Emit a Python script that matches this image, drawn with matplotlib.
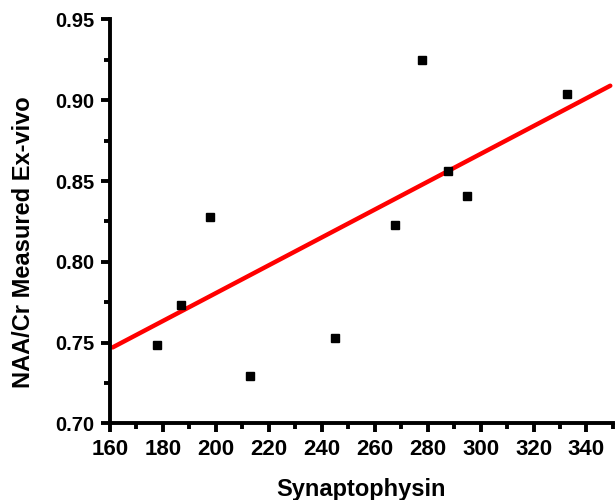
import matplotlib.pyplot as plt
from matplotlib.ticker import MultipleLocator

plt.rcParams["font.family"] = ["Liberation Sans", "DejaVu Sans"]

# measured points
synaptophysin = [177.8, 186.9, 197.9, 213.0, 245.1, 267.8, 277.9, 287.7, 294.9, 332.8]
naa_cr = [0.7485, 0.773, 0.828, 0.729, 0.753, 0.823, 0.925, 0.856, 0.841, 0.904]

# linear fit line (end points)
fit_x = [161, 349]
fit_y = [0.747, 0.909]

fig = plt.figure(figsize=(6.16, 5), dpi=100)
ax = fig.add_axes([0.1786, 0.1534, 0.8164, 0.8076])

ax.plot(fit_x, fit_y, color="red", lw=3.2, solid_capstyle="round", zorder=2)
ax.plot(synaptophysin, naa_cr, "s", color="black", ms=6, zorder=3)

ax.set_xlim(160, 350)
ax.set_ylim(0.70, 0.95)
ax.xaxis.set_major_locator(MultipleLocator(20))
ax.xaxis.set_minor_locator(MultipleLocator(10))
ax.yaxis.set_major_locator(MultipleLocator(0.05))
ax.yaxis.set_minor_locator(MultipleLocator(0.025))
ax.yaxis.set_major_formatter(plt.FormatStrFormatter("%.2f"))

for s in ["top", "right"]:
    ax.spines[s].set_visible(False)
for s in ["left", "bottom"]:
    ax.spines[s].set_linewidth(2.8)

ax.tick_params(which="major", length=6.5, width=2.8)
ax.tick_params(which="minor", length=4, width=2.8)
ax.tick_params(axis="x", labelsize=16, pad=5)
ax.tick_params(axis="y", labelsize=14.5, pad=5)
for lbl in ax.get_xticklabels() + ax.get_yticklabels():
    lbl.set_fontweight("bold")

ax.set_xlabel("Synaptophysin", fontsize=17, fontweight="bold")
ax.set_ylabel("NAA/Cr Measured Ex-vivo", fontsize=17, fontweight="bold")
ax.xaxis.set_label_coords(0.5, -0.136)
ax.yaxis.set_label_coords(-0.149, 0.449)

fig.savefig("out.png", dpi=100)
